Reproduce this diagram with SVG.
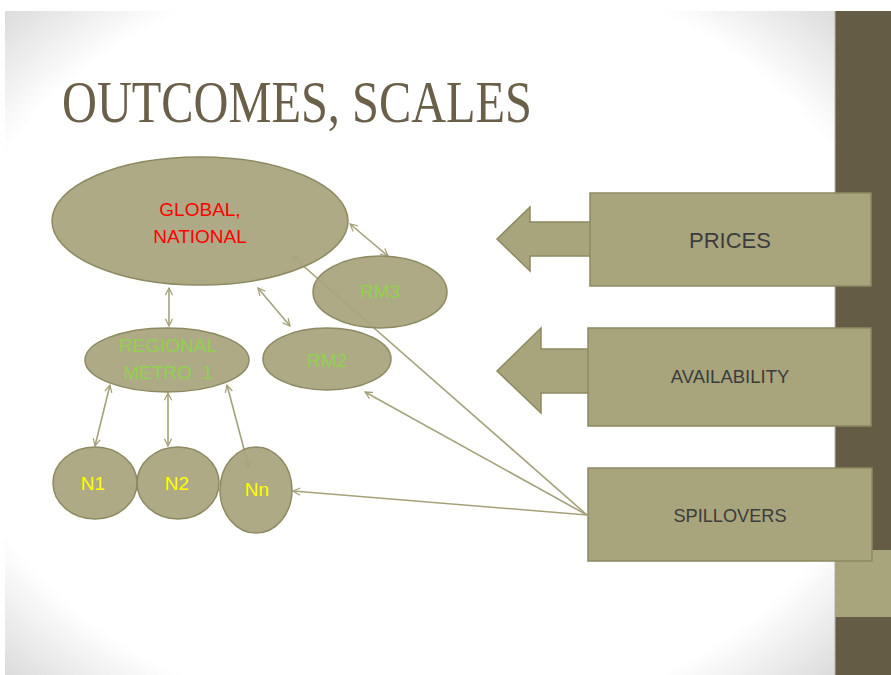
<svg xmlns="http://www.w3.org/2000/svg" width="891" height="675" viewBox="0 0 891 675">
<defs>
<radialGradient id="bg" cx="50%" cy="50%" r="72%">
<stop offset="0" stop-color="#ffffff"/>
<stop offset="0.8" stop-color="#ffffff"/>
<stop offset="1" stop-color="#d8d8d8"/>
</radialGradient>
<marker id="ah" viewBox="0 0 10 10" refX="9" refY="5" markerWidth="9" markerHeight="9" markerUnits="userSpaceOnUse" orient="auto-start-reverse">
<path d="M1,1 L9,5 L1,9" fill="none" stroke="#a5a27b" stroke-width="1.4"/>
</marker>
<style>
.shape{fill:#a8a47c;stroke:#8d8962;stroke-width:1.5}
.ell{fill:#a8a47c;fill-opacity:0.93;stroke:#8d8962;stroke-width:1.5}
.con{fill:none;stroke:#a5a27b;stroke-width:1.6}
.t{font-family:"Liberation Sans","Open Sans",Arial,sans-serif;text-anchor:middle;white-space:pre}
.red{fill:#ff0000;font-size:19px}
.grn{fill:#92d050;font-size:19px}
.yel{fill:#ffff00;font-size:19px}
.dk{fill:#3c3c3c}
</style>
</defs>
<rect x="0" y="0" width="891" height="675" fill="#ffffff"/>
<rect x="5" y="11" width="830" height="664" fill="url(#bg)"/>
<rect x="835" y="11" width="56" height="664" fill="#655c46"/>
<line x1="835" y1="11" x2="835" y2="675" stroke="#b5b5b5" stroke-width="1"/>
<rect x="835" y="550" width="56" height="67" fill="#a8a47c"/>
<text x="62" y="122" font-family="'Liberation Serif','DejaVu Serif',serif" font-size="60" fill="#6a6049" textLength="470" lengthAdjust="spacingAndGlyphs">OUTCOMES, SCALES</text>
<g id="connectors">
<line class="con" x1="169" y1="288" x2="169" y2="326" marker-start="url(#ah)" marker-end="url(#ah)"/>
<line class="con" x1="258" y1="288" x2="290" y2="326" marker-start="url(#ah)" marker-end="url(#ah)"/>
<line class="con" x1="350" y1="224" x2="388" y2="256" marker-start="url(#ah)" marker-end="url(#ah)"/>
<line class="con" x1="110" y1="385" x2="95" y2="446" marker-start="url(#ah)" marker-end="url(#ah)"/>
<line class="con" x1="168" y1="393" x2="168" y2="446" marker-start="url(#ah)" marker-end="url(#ah)"/>
<line class="con" x1="227" y1="385" x2="249" y2="468" marker-start="url(#ah)" marker-end="url(#ah)"/>
<line class="con" x1="587" y1="515" x2="365" y2="392" marker-end="url(#ah)"/>
<line class="con" x1="587" y1="515" x2="293" y2="491" marker-end="url(#ah)"/>
<line class="con" x1="587" y1="515" x2="292" y2="256" marker-end="url(#ah)"/>
</g>
<g id="global">
<ellipse class="ell" cx="200" cy="221" rx="148" ry="64"/>
<text class="t red" x="200" y="216">GLOBAL,</text>
<text class="t red" x="200" y="243">NATIONAL</text>
</g>
<g id="rm3">
<ellipse class="ell" cx="380" cy="292" rx="67" ry="36"/>
<text class="t grn" x="380" y="298">RM3</text>
</g>
<g id="rm2">
<ellipse class="ell" cx="327" cy="359" rx="64" ry="31"/>
<text class="t grn" x="327" y="367">RM2</text>
</g>
<g id="regional">
<ellipse class="ell" cx="167" cy="360" rx="82" ry="32"/>
<text class="t grn" x="168" y="352">REGIONAL</text>
<text class="t grn" x="168" y="379">METRO  1</text>
</g>
<g id="n1">
<ellipse class="ell" cx="95" cy="483" rx="42" ry="36"/>
<text class="t yel" x="93" y="490">N1</text>
</g>
<g id="n2">
<ellipse class="ell" cx="178" cy="483" rx="41" ry="36"/>
<text class="t yel" x="177" y="490">N2</text>
</g>
<g id="nn">
<ellipse class="ell" cx="256" cy="490" rx="36" ry="43"/>
<text class="t yel" x="257" y="496" font-size="20">Nn</text>
</g>
<g id="prices">
<polygon class="shape" points="591,222 530,222 530,207 497,239 530,271 530,256 591,256"/>
<rect class="shape" x="590" y="193" width="281" height="93"/>
<text class="t dk" x="730" y="248" font-size="22">PRICES</text>
</g>
<g id="availability">
<polygon class="shape" points="589,349 541,349 541,328 497,371 541,413 541,393 589,393"/>
<rect class="shape" x="588" y="328" width="283" height="98"/>
<text class="t dk" x="730" y="383" font-size="18.5">AVAILABILITY</text>
</g>
<g id="spillovers">
<rect class="shape" x="588" y="468" width="284" height="93"/>
<text class="t dk" x="730" y="522" font-size="18.2">SPILLOVERS</text>
</g>
</svg>
